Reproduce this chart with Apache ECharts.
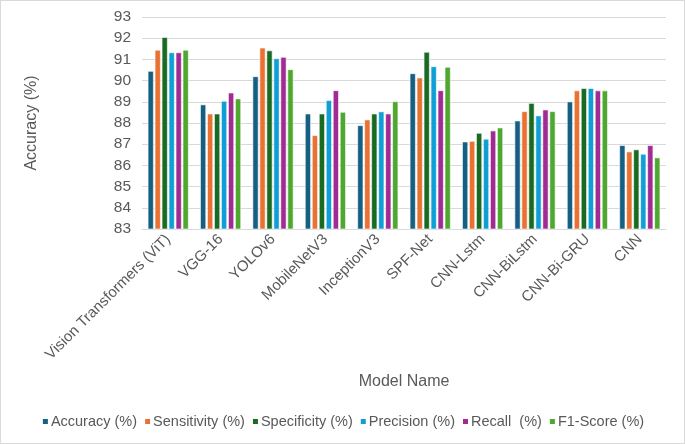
<!DOCTYPE html>
<html>
<head>
<meta charset="utf-8">
<script src="https://cdn.jsdelivr.net/npm/echarts@6/dist/echarts.min.js"></script>
<style>
  html, body { margin: 0; padding: 0; background: #fff; }
  #main { width: 683px; height: 442px; border: 1px solid #d9d9d9; }
</style>
</head>
<body>
<div id="main"></div>
<script>
var models = ['Vision Transformers (ViT)', 'VGG-16', 'YOLOv6', 'MobileNetV3', 'InceptionV3',
  'SPF-Net', 'CNN-Lstm', 'CNN-BiLstm', 'CNN-Bi-GRU', 'CNN'];
var metricNames = ['Accuracy (%)', 'Sensitivity (%)', 'Specificity (%)', 'Precision (%)', 'Recall  (%)', 'F1-Score (%)'];

var accuracy    = [90.45, 88.87, 90.2,  88.44, 87.89, 90.34, 87.12, 88.11, 89.01, 86.95];
var sensitivity = [91.45, 88.44, 91.55, 87.42, 88.16, 90.14, 87.15, 88.55, 89.53, 86.65];
var specificity = [92.05, 88.44, 91.42, 88.44, 88.44, 91.35, 87.53, 88.94, 89.64, 86.75];
var precision   = [91.33, 89.04, 91.05, 89.07, 88.54, 90.67, 87.25, 88.35, 89.64, 86.54];
var recall      = [91.33, 89.43, 91.11, 89.54, 88.44, 89.54, 87.64, 88.63, 89.53, 86.95];
var f1score     = [91.45, 89.15, 90.53, 88.52, 89.02, 90.64, 87.78, 88.55, 89.53, 86.37];

var colors = ['#156082', '#E97132', '#196B24', '#0F9ED5', '#A02B93', '#4EA72E'];
var allData = [accuracy, sensitivity, specificity, precision, recall, f1score];

var chart = echarts.init(document.getElementById('main'));

var series = metricNames.map(function (name, i) {
  return {
    name: name,
    type: 'bar',
    data: allData[i],
    barGap: '18%',
    barCategoryGap: '22%',
    itemStyle: { color: colors[i], borderColor: '#fff', borderWidth: 0.6 }
  };
});

var option = {
  animation: false,
  color: colors,
  textStyle: { fontFamily: 'Liberation Sans, Arial, sans-serif', color: '#595959' },
  grid: { left: 141, right: 18, top: 16, height: 212 },
  legend: {
    data: metricNames,
    bottom: 9,
    left: 'center',
    itemWidth: 7,
    itemHeight: 7,
    itemGap: 6,
    icon: 'rect',
    textStyle: { fontSize: 14.5, color: '#595959', padding: [0, 0, 0, -3] }
  },
  xAxis: {
    type: 'category',
    data: models,
    name: 'Model Name',
    nameLocation: 'middle',
    nameGap: 145,
    nameTextStyle: { fontSize: 16, color: '#595959' },
    axisLine: { lineStyle: { color: '#d9d9d9', width: 1 } },
    axisTick: { show: false },
    axisLabel: { rotate: 45, fontSize: 15, color: '#595959', margin: 8, interval: 0 }
  },
  yAxis: {
    type: 'value',
    min: 83,
    max: 93,
    interval: 1,
    name: 'Accuracy (%)',
    nameLocation: 'middle',
    nameGap: 102,
    nameTextStyle: { fontSize: 16, color: '#595959' },
    axisLine: { show: false },
    axisTick: { show: false },
    axisLabel: { fontSize: 15.5, color: '#595959', margin: 11 },
    splitLine: { lineStyle: { color: '#d9d9d9', width: 1 } }
  },
  series: series
};

chart.setOption(option);
</script>
</body>
</html>
